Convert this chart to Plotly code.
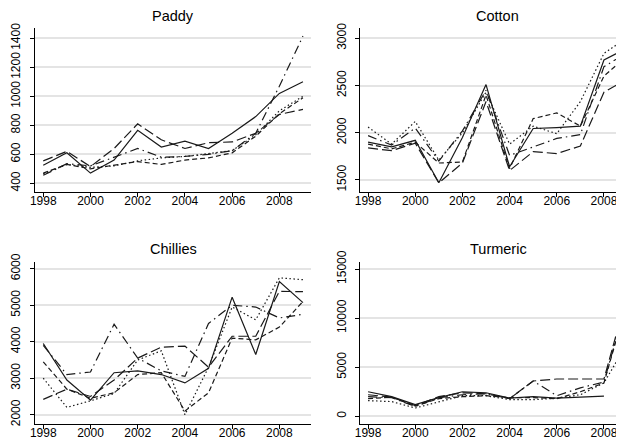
import plotly.graph_objects as go

years = list(range(1998, 2010))
x_ticks = [1998, 2000, 2002, 2004, 2006, 2008]
x_labels = ["1998", "2000", "2002", "2004", "2006", "2008"]

# Paddy
paddy_solid = [525, 610, 470, 560, 765, 650, 690, 640, 745, 860, 1020, 1100]
paddy_longdash = [555, 620, 515, 640, 810, 700, 640, 680, 685, 745, 875, 910]
paddy_dashdot = [455, 535, 520, 580, 640, 580, 585, 600, 625, 745, 1070, 1415]
paddy_dot = [465, 530, 510, 520, 555, 575, 585, 605, 625, 735, 900, 1000]
paddy_dash = [470, 530, 500, 525, 550, 530, 560, 575, 610, 725, 880, 990]
paddy_ticks = [400, 600, 800, 1000, 1200, 1400]
paddy_labels = ["400", "600", "800", "1000", "1200", "1400"]

# Cotton
cotton_solid = [1900, 1850, 1920, 1470, 1950, 2510, 1640, 2045, 2055, 2070, 2770, 2900]
cotton_longdash = [1840, 1810, 1890, 1470, 1680, 2330, 1600, 1800, 1780, 1860, 2430, 2570]
cotton_dashdot = [1970, 1870, 2050, 1700, 2020, 2450, 1760, 1850, 1940, 1980, 2700, 2850]
cotton_dot = [2060, 1880, 2120, 1710, 2000, 2430, 1880, 2070, 1990, 2330, 2840, 3010]
cotton_dash = [1880, 1830, 1900, 1680, 1690, 2400, 1620, 2150, 2210, 2070, 2600, 2820]
cotton_ticks = [1500, 2000, 2500, 3000]
cotton_labels = ["1500", "2000", "2500", "3000"]

# Chillies
chillies_solid = [3950, 2950, 2400, 3150, 3200, 3100, 2870, 3270, 5220, 3650, 5650, 5070]
chillies_longdash = [2420, 2700, 2500, 2950, 3550, 3850, 3880, 3300, 4150, 4150, 5380, 5370]
chillies_dashdot = [3900, 3100, 3170, 4480, 3550, 3200, 3050, 4500, 5000, 4950, 4650, 4750]
chillies_dot = [3000, 2200, 2380, 2580, 3500, 3750, 2000, 3300, 4950, 4600, 5750, 5700]
chillies_dash = [3450, 2700, 2450, 2600, 3100, 3150, 2100, 2600, 4100, 4050, 4400, 5100]
chillies_ticks = [2000, 3000, 4000, 5000, 6000]
chillies_labels = ["2000", "3000", "4000", "5000", "6000"]

# Turmeric
turmeric_solid = [2500, 2000, 1200, 1900, 2500, 2400, 1850, 2000, 1850, 1950, 2050, None]
turmeric_longdash = [2200, 1950, 1100, 2000, 2400, 2300, 1800, 3600, 3800, 3800, 3800, 12500]
turmeric_dashdot = [2000, 1900, 1000, 1900, 2200, 2300, 1800, 3600, 2100, 2900, 3500, 12000]
turmeric_dash = [1800, 1950, 1050, 1800, 2000, 2100, 1900, 1900, 1800, 2500, 3400, 11800]
turmeric_dot = [1600, 1500, 850, 1500, 2100, 2100, 1700, 1700, 1850, 2200, 3400, 7500]
turmeric_ticks = [0, 5000, 10000, 15000]
turmeric_labels = ["0", "5000", "10000", "15000"]

# the page body has an 8px margin: the figure is drawn 8px in from the window corner
OFF = 8
W, H = 624 - OFF, 446 - OFF
FONT = "Liberation Sans, Arial, Helvetica, sans-serif"


def fx(p):
    return (p - OFF) / W


def fy(p):
    return 1 - (p - OFF) / H


styles = [
    ("solid", "solid"),
    ("longdash", "10px,4px"),
    ("dashdot", "9px,4px,1.5px,4px"),
    ("dot", "1.5px,2.5px"),
    ("dash", "5px,3px"),
]

panels = [
    dict(name="Paddy", series=[paddy_solid, paddy_longdash, paddy_dashdot, paddy_dot, paddy_dash],
         ticks=paddy_ticks, labels=paddy_labels,
         px=(35, 311), py=(28.3, 191.7), yr=(342, 1469), xr=(1997.65, 2009.34), title=(173, 15.7)),
    dict(name="Cotton", series=[cotton_solid, cotton_longdash, cotton_dashdot, cotton_dot, cotton_dash],
         ticks=cotton_ticks, labels=cotton_labels,
         px=(360.3, 624), py=(28.3, 191.7), yr=(1376, 3106), xr=(1997.67, 2008.85), title=(497.5, 15.7)),
    dict(name="Chillies", series=[chillies_solid, chillies_longdash, chillies_dashdot, chillies_dot, chillies_dash],
         ticks=chillies_ticks, labels=chillies_labels,
         px=(35, 311), py=(261.7, 424), yr=(1745, 6192), xr=(1997.65, 2009.34), title=(173, 248.7)),
    dict(name="Turmeric", series=[turmeric_solid, turmeric_longdash, turmeric_dashdot, turmeric_dot, turmeric_dash],
         ticks=turmeric_ticks, labels=turmeric_labels,
         px=(360.3, 624), py=(261.7, 424), yr=(-782, 15752), xr=(1997.67, 2008.85), title=(498.5, 248.7)),
]

fig = go.Figure()
annotations = []
layout = {}
for i, p in enumerate(panels):
    n = "" if i == 0 else str(i + 1)
    for (nm, dash), ys in zip(styles, p["series"]):
        fig.add_trace(go.Scatter(
            x=years, y=ys, mode="lines", name=nm, showlegend=False,
            line=dict(color="#1a1a1a", width=1.2, dash=dash),
            xaxis="x" + n, yaxis="y" + n, connectgaps=False,
        ))
    layout["xaxis" + n] = dict(
        domain=[fx(p["px"][0]), min(1.0, fx(p["px"][1]))], range=list(p["xr"]), anchor="y" + n,
        tickvals=x_ticks, ticktext=x_labels, ticks="outside", ticklen=4, tickwidth=1, tickcolor="black",
        showline=True, linecolor="black", linewidth=1, showgrid=False, zeroline=False,
        ticklabelstandoff=-6, automargin=False,
        tickfont=dict(family=FONT, size=12, color="black"),
    )
    layout["yaxis" + n] = dict(
        domain=[fy(p["py"][1]), fy(p["py"][0])], range=list(p["yr"]), anchor="x" + n,
        tickvals=p["ticks"], ticktext=p["labels"], ticks="outside", ticklen=4, tickwidth=1, tickcolor="black",
        showline=True, linecolor="black", linewidth=1, showgrid=True,
        gridcolor="#e4e4e4", gridwidth=1.5, zeroline=False, tickangle=-90,
        ticklabelstandoff=5, automargin=False,
        tickfont=dict(family=FONT, size=12, color="black"),
    )
    annotations.append(dict(
        text=p["name"], x=fx(p["title"][0]), y=fy(p["title"][1]), xref="paper", yref="paper",
        xanchor="center", yanchor="middle", showarrow=False,
        font=dict(family=FONT, size=14.5, color="black"),
    ))

fig.update_layout(
    width=W, height=H, margin=dict(l=0, r=0, t=0, b=0, autoexpand=False),
    paper_bgcolor="white", plot_bgcolor="white",
    annotations=annotations, **layout,
)
fig.write_html("out.html")
